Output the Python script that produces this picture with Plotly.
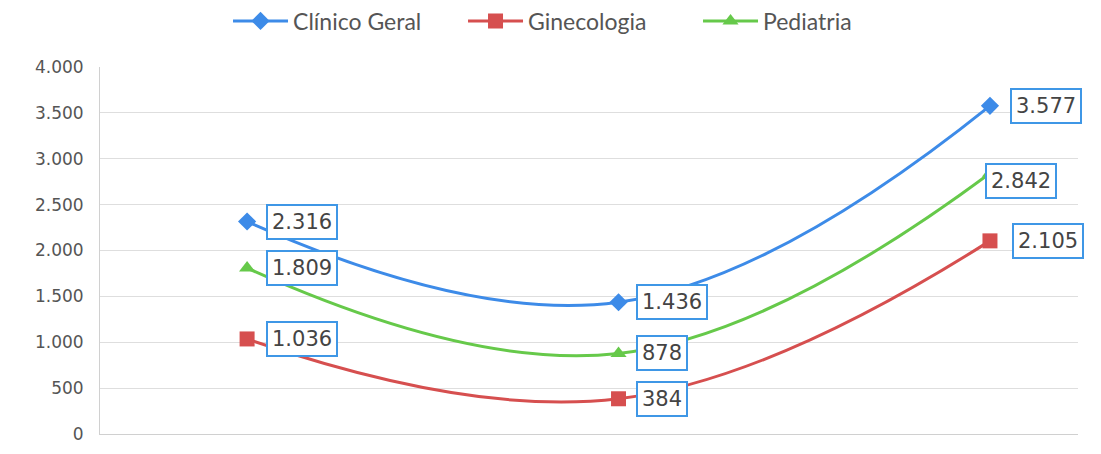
import plotly.graph_objects as go

categories = ["A", "B", "C"]
clinico = [2316, 1436, 3577]
gineco = [1036, 384, 2105]
pediatria = [1809, 878, 2842]
y_ticks = [0, 500, 1000, 1500, 2000, 2500, 3000, 3500, 4000]

series = [
    ("Clínico Geral", clinico, "#3d8be8", "diamond", 14),
    ("Ginecologia", gineco, "#d64f4f", "square", 15),
    ("Pediatria", pediatria, "#66c94a", "triangle-up", 14),
]

def fmt(v):
    return f"{v:,}".replace(",", ".")

fig = go.Figure()
xs = [0, 1, 2]
for name, vals, color, sym, size in series:
    fig.add_trace(go.Scatter(
        x=xs, y=vals, name=name, mode="lines+markers",
        line=dict(color=color, width=3, shape="spline", smoothing=1.2),
        marker=dict(symbol=sym, size=size, color=color),
    ))

annotations = []
shifts = {
    "Clínico Geral": [(19, 0), (17, 0), (20, 0)],
    "Ginecologia": [(19, 0), (17, 0), (22, 0)],
    "Pediatria": [(19, 0), (17, 0), (-5, -8)],
}
for name, vals, color, sym, size in series:
    for i, v in enumerate(vals):
        dx, dy = shifts[name][i]
        annotations.append(dict(
            x=xs[i], y=v, xref="x", yref="y", text=fmt(v), showarrow=False,
            xanchor="left", yanchor="middle", xshift=dx, yshift=dy,
            font=dict(family="DejaVu Sans", size=21, color="#444444"),
            bordercolor="#3f97e6", borderwidth=2, borderpad=4,
            bgcolor="white",
        ))

fig.update_layout(
    width=1101, height=454,
    margin=dict(l=92, r=31, t=59, b=28, autoexpand=False),
    paper_bgcolor="white", plot_bgcolor="white",
    separators=",.",
    showlegend=True,
    legend=dict(orientation="h", x=0.52, xref="container", xanchor="center",
                y=1 - 13 / 454, yref="container", yanchor="middle",
                font=dict(family="Lato", size=23, color="#555555"),
                itemwidth=55, tracegroupgap=0,
                entrywidth=165, entrywidthmode="pixels"),
    annotations=annotations,
    xaxis=dict(range=[-0.396, 2.237], showticklabels=False, showgrid=False, zeroline=False,
               showline=True, linecolor="#d0d0d0", linewidth=1),
    yaxis=dict(range=[0, 4000], tickvals=y_ticks, tickformat=",d", automargin=False,
               showgrid=True, gridcolor="#dedede", zeroline=False,
               showline=True, linecolor="#d0d0d0", ticks="", ticklabelstandoff=12,
               tickfont=dict(family="DejaVu Sans", size=17, color="#555555")),
)

fig.write_html("out.html")
